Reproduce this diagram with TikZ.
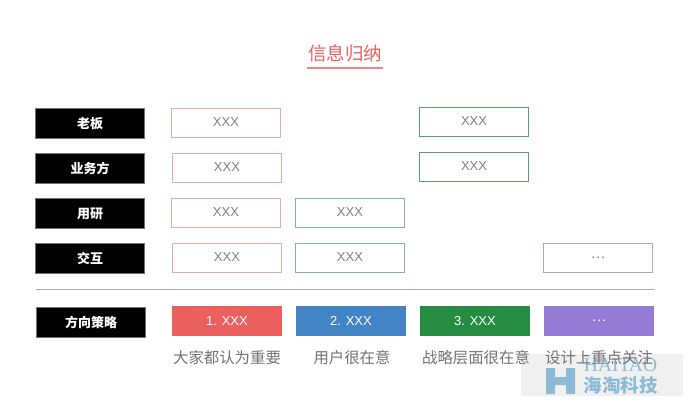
\documentclass[tikz,border=0pt]{standalone}
\usepackage{fontspec}
\setmainfont{Liberation Sans}
\newfontfamily\cjk{Noto Sans CJK SC}
\usepackage{tikz}
\usetikzlibrary{positioning}
\definecolor{pinkline}{HTML}{E9A9A9}
\definecolor{blueline}{HTML}{82ABD2}
\definecolor{greenline}{HTML}{56A070}
\definecolor{purpleline}{HTML}{B09FDB}
\definecolor{redfill}{HTML}{EB5F5F}
\definecolor{bluefill}{HTML}{4384C6}
\definecolor{greenfill}{HTML}{268C41}
\definecolor{purplefill}{HTML}{957BD5}
\definecolor{markblue}{HTML}{8DBBD6}
\tikzset{
  rolebox/.style={draw=black!55,fill=black,text=white,minimum width=109pt,minimum height=30pt,inner sep=0pt,font=\cjk\bfseries\fontsize{13}{13}\selectfont},
  itembox/.style={draw=#1,line width=1.1pt,minimum width=109pt,minimum height=29pt,inner sep=0pt,text depth=2pt,text=black!50,font=\fontsize{13}{13}\selectfont},
  planbox/.style={fill=#1,minimum width=110pt,minimum height=30pt,inner sep=0pt,text=white,font=\fontsize{13}{13}\selectfont},
  caption/.style={text=black!55,inner sep=0pt,font=\cjk\fontsize{15.4}{15.4}\selectfont}
}
\begin{document}
\begin{tikzpicture}[x=1pt,y=-1pt]
\useasboundingbox (0,0) rectangle (690,400);
% watermark
\fill[black!6] (521,354) rectangle (683,396);
\fill[markblue] (546,368) -- (555,368) -- (555,377) -- (566,377) -- (566,368) -- (575,368) -- (575,394) -- (566,394) -- (566,385) -- (555,385) -- (555,394) -- (546,394) -- cycle;
\node[text=markblue,inner sep=0pt,font=\fontspec{Liberation Serif}\fontsize{19.5}{19.5}\selectfont] (markname) at (620.5,365) {HAITAO};
\node[text=markblue,inner sep=0pt,font=\cjk\bfseries\fontsize{18.5}{18.5}\selectfont] (markcn) at (620.5,385) {海淘科技};
% title
\node[text=redfill,inner sep=0pt,font=\cjk\fontsize{18.5}{18.5}\selectfont] (title) at (345,53) {信息归纳};
\draw[redfill!75,line width=1.5pt] (307,68) coordinate (ul1) -- (383,68) coordinate (ul2);
% roles
\node[rolebox] (boss) at (90,123.5) {老板};
\node[rolebox] (biz) at (90,168.5) {业务方};
\node[rolebox] (ur) at (90,213.5) {用研};
\node[rolebox] (ux) at (90,258.5) {交互};
\node[rolebox] (plan) at (91,322) {方向策略};
% items
\node[itembox=pinkline] (a1) at (226,123) {XXX};
\node[itembox=pinkline] (a2) at (227,168) {XXX};
\node[itembox=pinkline] (a3) at (226,213) {XXX};
\node[itembox=pinkline] (a4) at (227,258) {XXX};
\node[itembox=blueline] (b3) at (350,213) {XXX};
\node[itembox=blueline] (b4) at (350,258) {XXX};
\node[itembox=greenline] (c1) at (474,122) {XXX};
\node[itembox=greenline] (c2) at (474,167) {XXX};
\node[itembox=purpleline,text depth=0pt] (d4) at (598,258) {\cjk …};
% divider
\draw[black!35] (36,289) coordinate (l1) -- (654,289) coordinate (l2);
% plans
\node[planbox=redfill] (p1) at (227,321) {1. XXX};
\node[planbox=bluefill] (p2) at (351,321) {2. XXX};
\node[planbox=greenfill] (p3) at (475,321) {3. XXX};
\node[planbox=purplefill] (p4) at (599,321) {\cjk …};
% captions
\node[caption] (t1) at (227,358) {大家都认为重要};
\node[caption] (t2) at (352,358) {用户很在意};
\node[caption] (t3) at (476,358) {战略层面很在意};
\node[caption] (t4) at (599,358) {设计上重点关注};
\end{tikzpicture}
\end{document}
